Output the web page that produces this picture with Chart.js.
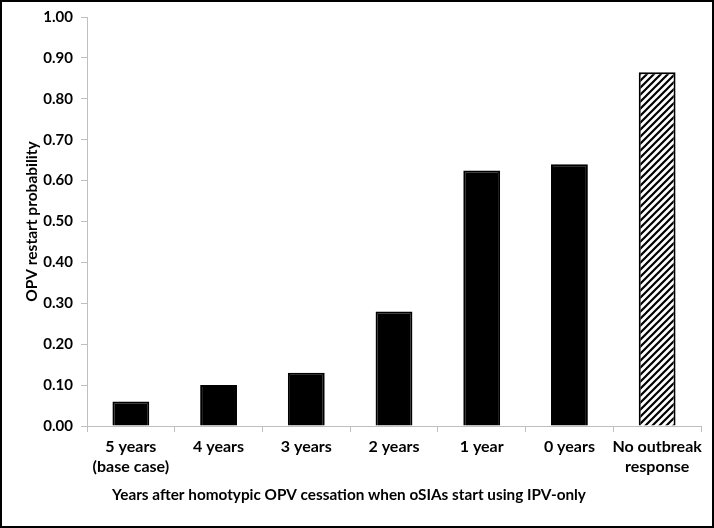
<!DOCTYPE html>
<html>
<head>
<meta charset="utf-8">
<script src="https://cdn.jsdelivr.net/npm/chart.js@4/dist/chart.umd.min.js"></script>
<style>
html,body{margin:0;padding:0;background:#fff;}
#wrap{width:714px;height:528px;position:relative;}
</style>
</head>
<body>
<div id="wrap"><canvas id="c" width="714" height="528"></canvas></div>
<script>
const categories = [["5 years","(base case)"],"4 years","3 years","2 years","1 year","0 years",["No outbreak","response"]];
const restartProbability = [0.06, 0.10, 0.13, 0.28, 0.625, 0.64, 0.865];
const yTickLabels = ["0.00","0.10","0.20","0.30","0.40","0.50","0.60","0.70","0.80","0.90","1.00"];
const xTitle = "Years after homotypic OPV cessation when oSIAs start using IPV-only";
const yTitle = "OPV restart probability";

const FAMILY = 'Lato, "Open Sans", sans-serif';

function hatch(){
  const s = 7;
  const p = document.createElement('canvas');
  p.width = s; p.height = s;
  const g = p.getContext('2d');
  g.fillStyle = '#fff'; g.fillRect(0,0,s,s);
  g.strokeStyle = '#000'; g.lineWidth = 2.2;
  g.beginPath();
  g.moveTo(-1, s+1); g.lineTo(s+1, -1);
  g.moveTo(-1, 1); g.lineTo(1, -1);
  g.moveTo(s-1, s+1); g.lineTo(s+1, s-1);
  g.stroke();
  return g.createPattern(p, 'repeat');
}
const ctx = document.getElementById('c').getContext('2d');
const pat = hatch();
const fills = restartProbability.map((v,i)=> i === restartProbability.length-1 ? pat : '#000');

const framePlugin = {
  id:'frame',
  afterDraw(chart){
    const c = chart.ctx;
    c.save();
    c.strokeStyle = '#000'; c.lineWidth = 2;
    c.strokeRect(1,1,chart.width-2,chart.height-2);
    // x-axis title, centred on the whole figure as in the reference
    c.fillStyle = '#000';
    c.font = 'bold 15.3px ' + FAMILY;
    c.textAlign = 'center'; c.textBaseline = 'middle';
    c.fillText(xTitle, 349, 495);
    c.restore();
  }
};

new Chart(ctx,{
  type:'bar',
  data:{labels:categories,datasets:[{data:restartProbability,backgroundColor:fills,borderColor:'#000',borderWidth:{top:2,left:2,right:2,bottom:0},borderSkipped:false,barPercentage:0.42,categoryPercentage:1}]},
  options:{
    responsive:false,animation:false,
    layout:{padding:{left:20,right:13,top:17,bottom:0}},
    plugins:{legend:{display:false},tooltip:{enabled:false}},
    scales:{
      x:{
        grid:{display:true,drawOnChartArea:false,offset:true,color:'#bfbfbf',tickLength:6,tickColor:'#bfbfbf'},
        border:{color:'#bfbfbf',width:1},
        ticks:{color:'#000',font:{family:FAMILY,weight:'bold',size:16,lineHeight:1.25},padding:5,maxRotation:0,autoSkip:false},
        afterFit(s){s.height=102;}
      },
      y:{
        min:0,max:1,
        grid:{display:true,drawOnChartArea:false,color:'#bfbfbf',tickLength:6,tickColor:'#bfbfbf'},
        border:{color:'#bfbfbf',width:1},
        ticks:{stepSize:0.1,color:'#000',font:{family:FAMILY,weight:'bold',size:15},padding:8,callback:(v,i)=>yTickLabels[i]},
        title:{display:true,text:yTitle,color:'#000',font:{family:FAMILY,weight:'bold',size:15.5},padding:{top:3,bottom:0}},
        afterFit(s){s.width=67;}
      }
    }
  },
  plugins:[framePlugin]
});
</script>
</body>
</html>
